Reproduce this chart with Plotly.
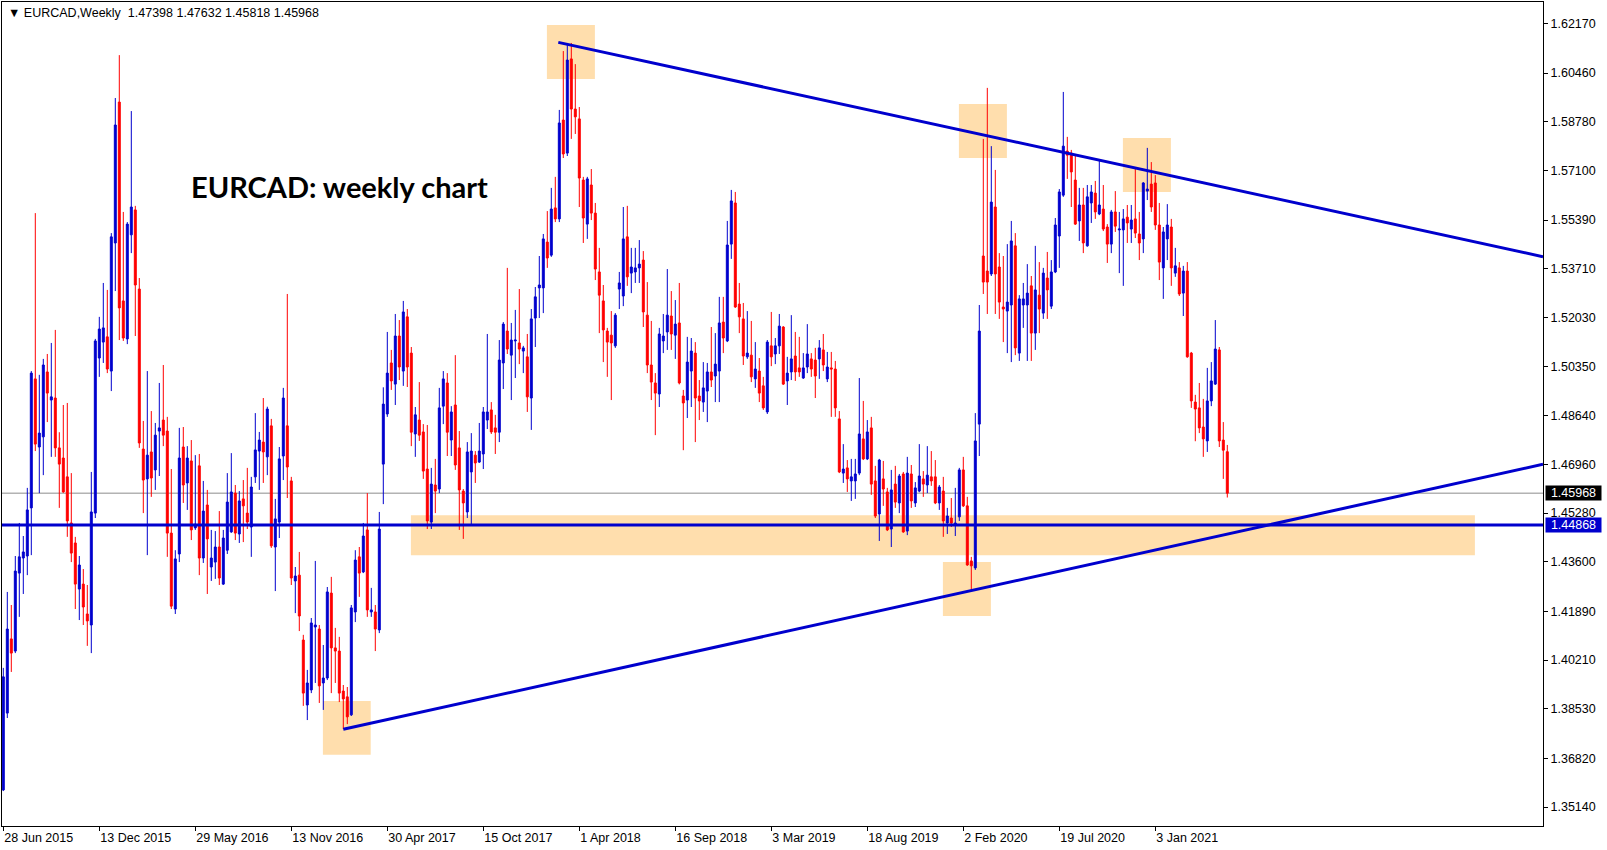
import pandas as pd
import plotly.graph_objects as go

# ---------------- data (weekly EURCAD candles) ----------------
first_week = "2015-06-28"

opens = [
    1.3573, 1.3838, 1.4094, 1.4052, 1.4321, 1.4373, 1.4380, 1.4546, 1.4991, 1.4756,
    1.4791, 1.5015, 1.4918, 1.4925, 1.4753, 1.4718, 1.4653, 1.4494, 1.4425, 1.4266,
    1.4283, 1.4180, 1.4142, 1.4528, 1.5063, 1.5118, 1.5136, 1.5018, 1.5460, 1.5946,
    1.5260, 1.5129, 1.5488, 1.5574, 1.5301, 1.4749, 1.4646, 1.4739, 1.4677, 1.4811,
    1.4849, 1.4811, 1.4459, 1.4197, 1.4387, 1.4756, 1.4632, 1.4708, 1.4477, 1.4691,
    1.4373, 1.4556, 1.4342, 1.4359, 1.4411, 1.4283, 1.4400, 1.4463, 1.4597, 1.4456,
    1.4577, 1.4528, 1.4480, 1.4653, 1.4742, 1.4773, 1.4722, 1.4829, 1.4411, 1.4497,
    1.4725, 1.4829, 1.4639, 1.4294, 1.4314, 1.4090, 1.3866, 1.3918, 1.4135, 1.4128,
    1.3942, 1.3959, 1.4252, 1.4063, 1.4052, 1.3914, 1.3894, 1.3832, 1.4187, 1.4377,
    1.4325, 1.4470, 1.4187, 1.4187, 1.4125, 1.4697, 1.4870, 1.5046, 1.4973, 1.5139,
    1.5018, 1.5205, 1.5080, 1.4801, 1.4849, 1.4808, 1.4680, 1.4497, 1.4625, 1.4611,
    1.4897, 1.4977, 1.4780, 1.4901, 1.4753, 1.4604, 1.4532, 1.4670, 1.4728, 1.4704,
    1.4732, 1.4849, 1.4884, 1.4822, 1.4807, 1.5046, 1.5156, 1.5073, 1.5122, 1.5115,
    1.5087, 1.5067, 1.4925, 1.5201, 1.5305, 1.5305, 1.5463, 1.5418, 1.5581, 1.5543,
    1.5884, 1.5770, 1.6095, 1.5922, 1.5888, 1.5677, 1.5525, 1.5660, 1.5563, 1.5360,
    1.5260, 1.5156, 1.5142, 1.5105, 1.5301, 1.5277, 1.5481, 1.5356, 1.5360, 1.5374,
    1.5401, 1.5211, 1.5039, 1.4977, 1.4939, 1.5122, 1.5153, 1.5208, 1.5142, 1.5184,
    1.4932, 1.4918, 1.5018, 1.5080, 1.4932, 1.4911, 1.4949, 1.5015, 1.5001, 1.5018,
    1.5187, 1.5122, 1.5456, 1.5598, 1.5249, 1.5198, 1.5067, 1.5073, 1.4991, 1.5018,
    1.4967, 1.4877, 1.5105, 1.5077, 1.5105, 1.5170, 1.4984, 1.5015, 1.5070, 1.5029,
    1.4994, 1.5032, 1.5060, 1.5056, 1.5060, 1.5091, 1.4991, 1.5029, 1.5025, 1.4853,
    1.4666, 1.4684, 1.4639, 1.4639, 1.4666, 1.4784, 1.4715, 1.4822, 1.4639, 1.4525,
    1.4646, 1.4601, 1.4473, 1.4628, 1.4563, 1.4663, 1.4466, 1.4663, 1.4563, 1.4604,
    1.4646, 1.4625, 1.4653, 1.4653, 1.4563, 1.4604, 1.4494, 1.4511, 1.4487, 1.4515,
    1.4677, 1.4553, 1.4363, 1.4339, 1.4835, 1.5415, 1.5363, 1.5353, 1.5584, 1.5377,
    1.5239, 1.5225, 1.5246, 1.5450, 1.5080, 1.5246, 1.5246, 1.5312, 1.5149, 1.5280,
    1.5218, 1.5339, 1.5242, 1.5360, 1.5484, 1.5625, 1.5777, 1.5770, 1.5677, 1.5536,
    1.5591, 1.5450, 1.5598, 1.5632, 1.5560, 1.5577, 1.5515, 1.5456, 1.5567, 1.5505,
    1.5505, 1.5549, 1.5508, 1.5543, 1.5491, 1.5474, 1.5639, 1.5663, 1.5667, 1.5522,
    1.5374, 1.5474, 1.5515, 1.5356, 1.5374, 1.5287, 1.5363, 1.5080, 1.4911, 1.4891,
    1.4825, 1.4777, 1.4915, 1.4973, 1.5091, 1.4780, 1.47398,
]

highs = [
    1.3994, 1.4256, 1.4211, 1.4380, 1.4494, 1.4449, 1.4615, 1.5018, 1.5563, 1.5005,
    1.5060, 1.5077, 1.5115, 1.5160, 1.4807, 1.4901, 1.4908, 1.4666, 1.4446, 1.4380,
    1.4335, 1.4280, 1.4670, 1.5129, 1.5205, 1.5322, 1.5298, 1.5494, 1.5960, 1.6108,
    1.5567, 1.5532, 1.5915, 1.5588, 1.5339, 1.4846, 1.5018, 1.4880, 1.4839, 1.4977,
    1.5039, 1.4860, 1.4680, 1.4400, 1.4822, 1.4825, 1.4759, 1.4780, 1.4728, 1.4732,
    1.4639, 1.4608, 1.4470, 1.4466, 1.4535, 1.4470, 1.4666, 1.4735, 1.4625, 1.4604,
    1.4642, 1.4684, 1.4653, 1.4873, 1.4808, 1.4925, 1.4895, 1.4853, 1.4577, 1.4756,
    1.4960, 1.5284, 1.4653, 1.4342, 1.4394, 1.4108, 1.3987, 1.4166, 1.4363, 1.4142,
    1.4073, 1.4273, 1.4308, 1.4132, 1.4101, 1.3935, 1.3928, 1.4211, 1.4400, 1.4411,
    1.4494, 1.4597, 1.4270, 1.4211, 1.4532, 1.4962, 1.5153, 1.5091, 1.5215, 1.5194,
    1.5260, 1.5232, 1.5101, 1.4894, 1.4980, 1.4835, 1.4832, 1.4684, 1.4715, 1.4960,
    1.5018, 1.5011, 1.4897, 1.5073, 1.4811, 1.4611, 1.4773, 1.4804, 1.4742, 1.4839,
    1.4894, 1.5146, 1.4911, 1.4867, 1.5125, 1.5187, 1.5374, 1.5184, 1.5229, 1.5301,
    1.5105, 1.5146, 1.5232, 1.5308, 1.5415, 1.5491, 1.5570, 1.5650, 1.5688, 1.5919,
    1.6122, 1.6150, 1.6150, 1.6077, 1.5929, 1.5688, 1.5688, 1.5715, 1.5598, 1.5443,
    1.5315, 1.5167, 1.5225, 1.5218, 1.5360, 1.5584, 1.5588, 1.5443, 1.5443, 1.5470,
    1.5432, 1.5325, 1.5191, 1.5011, 1.5167, 1.5215, 1.5370, 1.5294, 1.5263, 1.5322,
    1.4953, 1.5136, 1.5132, 1.5118, 1.4987, 1.5049, 1.5046, 1.5170, 1.5149, 1.5274,
    1.5274, 1.5536, 1.5643, 1.5636, 1.5322, 1.5253, 1.5225, 1.5191, 1.5118, 1.5063,
    1.4998, 1.5125, 1.5222, 1.5132, 1.5215, 1.5173, 1.5067, 1.5211, 1.5153, 1.5136,
    1.5080, 1.5180, 1.5080, 1.5098, 1.5125, 1.5146, 1.5084, 1.5084, 1.5053, 1.4880,
    1.4766, 1.4711, 1.4715, 1.4715, 1.4994, 1.4915, 1.4849, 1.4860, 1.4691, 1.4715,
    1.4708, 1.4615, 1.4677, 1.4691, 1.4663, 1.4670, 1.4722, 1.4694, 1.4635, 1.4766,
    1.4673, 1.4759, 1.4742, 1.4711, 1.4625, 1.4653, 1.4546, 1.4580, 1.4615, 1.4684,
    1.4722, 1.4584, 1.4377, 1.4873, 1.5246, 1.5819, 1.5995, 1.5794, 1.5712, 1.5425,
    1.5415, 1.5456, 1.5536, 1.5494, 1.5280, 1.5322, 1.5387, 1.5346, 1.5450, 1.5394,
    1.5374, 1.5429, 1.5401, 1.5546, 1.5646, 1.5981, 1.5826, 1.5781, 1.5767, 1.5650,
    1.5650, 1.5660, 1.5660, 1.5674, 1.5746, 1.5660, 1.5525, 1.5574, 1.5639, 1.5567,
    1.5577, 1.5591, 1.5591, 1.5715, 1.5567, 1.5670, 1.5788, 1.5739, 1.5694, 1.5598,
    1.5515, 1.5594, 1.5543, 1.5443, 1.5394, 1.5381, 1.5394, 1.5084, 1.4936, 1.4977,
    1.4922, 1.5029, 1.5049, 1.5194, 1.5101, 1.4842, 1.47632,
]

lows = [
    1.3569, 1.3821, 1.3980, 1.4045, 1.4170, 1.4249, 1.4314, 1.4383, 1.4742, 1.4597,
    1.4659, 1.4842, 1.4722, 1.4722, 1.4546, 1.4598, 1.4446, 1.4359, 1.4197, 1.4159,
    1.4142, 1.4070, 1.4045, 1.4511, 1.4998, 1.5046, 1.5011, 1.4949, 1.5294, 1.5125,
    1.5122, 1.5111, 1.5425, 1.5139, 1.4753, 1.4528, 1.4383, 1.4584, 1.4608, 1.4656,
    1.4759, 1.4377, 1.4197, 1.4180, 1.4359, 1.4563, 1.4539, 1.4435, 1.4470, 1.4314,
    1.4356, 1.4249, 1.4294, 1.4301, 1.4280, 1.4280, 1.4387, 1.4460, 1.4435, 1.4425,
    1.4428, 1.4473, 1.4377, 1.4632, 1.4608, 1.4632, 1.4659, 1.4408, 1.4259, 1.4442,
    1.4642, 1.4580, 1.4280, 1.4183, 1.4121, 1.3863, 1.3814, 1.3907, 1.3942, 1.3873,
    1.3849, 1.3952, 1.3907, 1.3942, 1.3876, 1.3783, 1.3800, 1.3828, 1.4152, 1.4239,
    1.4321, 1.4170, 1.4170, 1.4052, 1.4114, 1.4559, 1.4860, 1.4953, 1.4901, 1.4987,
    1.4967, 1.4963, 1.4759, 1.4722, 1.4777, 1.4646, 1.4473, 1.4473, 1.4528, 1.4597,
    1.4835, 1.4725, 1.4725, 1.4677, 1.4470, 1.4439, 1.4511, 1.4484, 1.4632, 1.4701,
    1.4680, 1.4818, 1.4801, 1.4732, 1.4773, 1.4956, 1.5077, 1.4918, 1.4994, 1.5042,
    1.5011, 1.4877, 1.4815, 1.5101, 1.5201, 1.5218, 1.5374, 1.5412, 1.5532, 1.5532,
    1.5753, 1.5760, 1.5819, 1.5836, 1.5584, 1.5460, 1.5474, 1.5539, 1.5332, 1.5149,
    1.5049, 1.4998, 1.4918, 1.5098, 1.5232, 1.5242, 1.5312, 1.5287, 1.5322, 1.5322,
    1.5170, 1.5011, 1.4918, 1.4797, 1.4894, 1.5080, 1.5091, 1.5091, 1.5060, 1.4972,
    1.4745, 1.4856, 1.4894, 1.4773, 1.4849, 1.4877, 1.4842, 1.4963, 1.4911, 1.4911,
    1.5080, 1.5118, 1.5405, 1.5236, 1.5149, 1.5039, 1.5060, 1.4980, 1.4960, 1.4911,
    1.4884, 1.4870, 1.5035, 1.5042, 1.5077, 1.4970, 1.4901, 1.4987, 1.4984, 1.4998,
    1.4991, 1.5011, 1.4998, 1.4925, 1.4991, 1.5018, 1.4980, 1.4860, 1.4860, 1.4666,
    1.4632, 1.4601, 1.4570, 1.4577, 1.4659, 1.4711, 1.4711, 1.4591, 1.4511, 1.4432,
    1.4553, 1.4466, 1.4411, 1.4546, 1.4528, 1.4460, 1.4452, 1.4546, 1.4549, 1.4600,
    1.4584, 1.4597, 1.4622, 1.4559, 1.4539, 1.4446, 1.4456, 1.4480, 1.4449, 1.4501,
    1.4549, 1.4346, 1.4263, 1.4332, 1.4725, 1.5284, 1.5215, 1.5346, 1.5215, 1.5198,
    1.5118, 1.5080, 1.5049, 1.5073, 1.5053, 1.5167, 1.5053, 1.5053, 1.5091, 1.5149,
    1.5198, 1.5198, 1.5232, 1.5356, 1.5374, 1.5619, 1.5681, 1.5584, 1.5522, 1.5467,
    1.5425, 1.5447, 1.5529, 1.5543, 1.5556, 1.5501, 1.5391, 1.5425, 1.5498, 1.5356,
    1.5312, 1.5460, 1.5460, 1.5477, 1.5401, 1.5425, 1.5608, 1.5567, 1.5505, 1.5332,
    1.5267, 1.5401, 1.5312, 1.5343, 1.5277, 1.5208, 1.5064, 1.4891, 1.4776, 1.4804,
    1.4722, 1.4739, 1.4897, 1.4970, 1.4756, 1.4646, 1.45818,
]

closes = [
    1.3963, 1.4128, 1.4045, 1.4328, 1.4377, 1.4394, 1.4539, 1.5011, 1.4766, 1.4804,
    1.5039, 1.4942, 1.4929, 1.4753, 1.4697, 1.4601, 1.4501, 1.4390, 1.4283, 1.4349,
    1.4204, 1.4156, 1.4532, 1.5122, 1.5163, 1.5167, 1.5025, 1.5481, 1.5867, 1.5236,
    1.5132, 1.5525, 1.5584, 1.5315, 1.4770, 1.4642, 1.4728, 1.4649, 1.4797, 1.4822,
    1.4797, 1.4459, 1.4207, 1.4370, 1.4718, 1.4625, 1.4718, 1.4470, 1.4490, 1.4373,
    1.4535, 1.4439, 1.4373, 1.4411, 1.4304, 1.4442, 1.4566, 1.4601, 1.4459, 1.4570,
    1.4553, 1.4497, 1.4618, 1.4746, 1.4780, 1.4739, 1.4887, 1.4415, 1.4508, 1.4715,
    1.4925, 1.4687, 1.4304, 1.4311, 1.4173, 1.3907, 1.3942, 1.4149, 1.4142, 1.3932,
    1.3959, 1.4256, 1.4063, 1.4052, 1.3907, 1.3887, 1.3825, 1.4201, 1.4366, 1.4321,
    1.4449, 1.4194, 1.4194, 1.4128, 1.4473, 1.4904, 1.5011, 1.4984, 1.5139, 1.5032,
    1.5222, 1.5032, 1.4807, 1.4867, 1.4797, 1.4673, 1.4501, 1.4628, 1.4604, 1.4891,
    1.4991, 1.4807, 1.4877, 1.4694, 1.4608, 1.4563, 1.4739, 1.4742, 1.4701, 1.4742,
    1.4877, 1.4877, 1.4808, 1.4807, 1.5056, 1.5180, 1.5094, 1.5125, 1.5125, 1.5094,
    1.5098, 1.4929, 1.5198, 1.5274, 1.5315, 1.5474, 1.5408, 1.5577, 1.5543, 1.5874,
    1.5767, 1.6091, 1.5922, 1.5895, 1.5684, 1.5546, 1.5681, 1.5563, 1.5370, 1.5280,
    1.5160, 1.5118, 1.5115, 1.5211, 1.5322, 1.5474, 1.5343, 1.5377, 1.5374, 1.5387,
    1.5222, 1.5039, 1.4980, 1.4942, 1.5146, 1.5139, 1.5211, 1.5146, 1.5180, 1.4977,
    1.4908, 1.5049, 1.5087, 1.4925, 1.4915, 1.4960, 1.5015, 1.4987, 1.5042, 1.5184,
    1.5132, 1.5453, 1.5605, 1.5239, 1.5205, 1.5070, 1.5080, 1.4998, 1.5025, 1.4942,
    1.4891, 1.5118, 1.5067, 1.5105, 1.5173, 1.4973, 1.5011, 1.5060, 1.5015, 1.5015,
    1.5029, 1.5077, 1.5025, 1.5001, 1.5098, 1.5039, 1.5032, 1.5025, 1.4891, 1.4670,
    1.4680, 1.4646, 1.4653, 1.4663, 1.4801, 1.4715, 1.4808, 1.4628, 1.4518, 1.4711,
    1.4611, 1.4470, 1.4608, 1.4566, 1.4656, 1.4463, 1.4666, 1.4570, 1.4615, 1.4656,
    1.4628, 1.4659, 1.4639, 1.4563, 1.4618, 1.4501, 1.4518, 1.4494, 1.4494, 1.4677,
    1.4553, 1.4349, 1.4346, 1.4777, 1.5156, 1.5325, 1.5325, 1.5601, 1.5353, 1.5256,
    1.5232, 1.5256, 1.5467, 1.5098, 1.5267, 1.5267, 1.5287, 1.5149, 1.5298, 1.5232,
    1.5356, 1.5298, 1.5360, 1.5522, 1.5636, 1.5794, 1.5763, 1.5705, 1.5525, 1.5591,
    1.5460, 1.5619, 1.5636, 1.5567, 1.5591, 1.5508, 1.5456, 1.5567, 1.5518, 1.5508,
    1.5543, 1.5529, 1.5539, 1.5494, 1.5460, 1.5667, 1.5646, 1.5584, 1.5522, 1.5394,
    1.5498, 1.5522, 1.5374, 1.5381, 1.5284, 1.5363, 1.5067, 1.4915, 1.4887, 1.4822,
    1.4784, 1.4915, 1.4984, 1.5094, 1.4777, 1.4745, 1.45968,
]

# price-axis labels (right side)
price_ticks = [1.62170, 1.60460, 1.58780, 1.57100, 1.55390, 1.53710, 1.52030,
               1.50350, 1.48640, 1.46960, 1.45280, 1.43600, 1.41890, 1.40210,
               1.38530, 1.36820, 1.35140]

# time-axis labels (every 24 weeks)
time_tick_labels = ["28 Jun 2015", "13 Dec 2015", "29 May 2016", "13 Nov 2016",
                    "30 Apr 2017", "15 Oct 2017", "1 Apr 2018", "16 Sep 2018",
                    "3 Mar 2019", "18 Aug 2019", "2 Feb 2020", "19 Jul 2020",
                    "3 Jan 2021"]

header_values = ["1.47398", "1.47632", "1.45818", "1.45968"]
bid_price = 1.45968
support_level = 1.44868

# analysis drawings: (week offset, price)
upper_trend = [(138.75, 1.6152), (384.925, 1.54126)]
lower_trend = [(85.0, 1.37821), (384.925, 1.46963)]
zones = [  # week0, week1, price0, price1
    (135.9, 147.9, 1.6026, 1.6212),
    (238.9, 250.9, 1.5753, 1.5939),
    (279.9, 291.9, 1.5636, 1.5822),
    (101.9, 367.9, 1.4383, 1.4521),
    (234.9, 246.9, 1.4173, 1.4359),
    (79.9, 91.85, 1.3694, 1.3880),
]
x_window = (-0.325, 384.925)
y_window = (1.34485, 1.62913)

# ---------------- figure ----------------
start = pd.Timestamp(first_week)


def wk(n):
    return start + pd.Timedelta(days=7 * n)


weeks = [wk(i) for i in range(len(opens))]
tick_dates = [wk(24 * k) for k in range(len(time_tick_labels))]

BLUE = "#0000CD"
RED = "#FF0000"
FONT = "Liberation Sans, Arial, sans-serif"
FS = 12.5

fig = go.Figure()

fig.add_trace(go.Candlestick(
    x=weeks, open=opens, high=highs, low=lows, close=closes,
    increasing=dict(line=dict(color=BLUE, width=1), fillcolor=BLUE),
    decreasing=dict(line=dict(color=RED, width=1), fillcolor=RED),
    whiskerwidth=0, hoverinfo="skip", showlegend=False,
))

for line_pts in (upper_trend, lower_trend):
    fig.add_trace(go.Scatter(
        x=[wk(p[0]) for p in line_pts], y=[p[1] for p in line_pts],
        mode="lines", line=dict(color=BLUE, width=3),
        hoverinfo="skip", showlegend=False,
    ))

fig.add_trace(go.Scatter(
    x=[wk(x_window[0]), wk(x_window[1])], y=[support_level, support_level],
    mode="lines", line=dict(color=BLUE, width=3),
    hoverinfo="skip", showlegend=False,
))

shapes = []
for w0, w1, p0, p1 in zones:
    shapes.append(dict(type="rect", xref="x", yref="y", x0=wk(w0), x1=wk(w1),
                       y0=p0, y1=p1, fillcolor="#FFDEAD", line=dict(width=0),
                       layer="below"))
shapes.append(dict(type="line", xref="paper", yref="y", x0=0, x1=1,
                   y0=bid_price, y1=bid_price,
                   line=dict(color="#8C8C8C", width=1), layer="below"))

L, R, T, B = 2, 64, 2, 24
W, H = 1607, 850
pw, ph = W - L - R, H - T - B


def px_x(px):
    return (px - L) / pw


def px_y(py):
    return 1 - (py - T) / ph


annotations = [
    dict(xref="paper", yref="paper", x=px_x(6), y=px_y(13), xanchor="left",
         yanchor="middle", showarrow=False,
         text="\u25BC EURCAD,Weekly\u00a0\u00a0" + " ".join(header_values),
         font=dict(family=FONT, size=FS, color="black")),
    dict(xref="paper", yref="paper", x=px_x(189), y=px_y(186), xanchor="left",
         yanchor="middle", showarrow=False,
         text="<b>EURCAD: weekly chart</b>",
         font=dict(family="Lato, Open Sans, sans-serif", size=29, color="black")),
    dict(xref="paper", yref="y", x=1, y=bid_price, xanchor="left",
         yanchor="middle", xshift=2, showarrow=False, text=f"{bid_price:.5f}",
         bgcolor="black", borderpad=1, width=53, height=12,
         font=dict(family=FONT, size=FS, color="white")),
    dict(xref="paper", yref="y", x=1, y=support_level, xanchor="left",
         yanchor="middle", xshift=2, showarrow=False, text=f"{support_level:.5f}",
         bgcolor=BLUE, borderpad=1, width=53, height=12,
         font=dict(family=FONT, size=FS, color="white")),
]

fig.update_layout(
    width=W, height=H,
    margin=dict(l=L, r=R, t=T, b=B),
    paper_bgcolor="white", plot_bgcolor="white",
    showlegend=False,
    shapes=shapes,
    annotations=annotations,
    xaxis=dict(
        type="date",
        range=[wk(x_window[0]), wk(x_window[1])],
        rangeslider=dict(visible=False),
        tickvals=tick_dates, ticktext=time_tick_labels,
        ticks="outside", ticklen=4, tickcolor="black",
        ticklabelposition="outside right",
        tickfont=dict(family=FONT, size=FS, color="black"),
        showgrid=False, zeroline=False,
        showline=True, linecolor="black", linewidth=1, mirror=True,
    ),
    yaxis=dict(
        side="right",
        range=list(y_window),
        tickvals=price_ticks, ticktext=[f"{v:.5f}" for v in price_ticks],
        ticks="outside", ticklen=4, tickcolor="black",
        tickfont=dict(family=FONT, size=FS, color="black"),
        showgrid=False, zeroline=False,
        showline=True, linecolor="black", linewidth=1, mirror=True,
    ),
)

fig.write_html("out.html", config={"displayModeBar": False},
               post_script="document.body.style.margin='0';")
